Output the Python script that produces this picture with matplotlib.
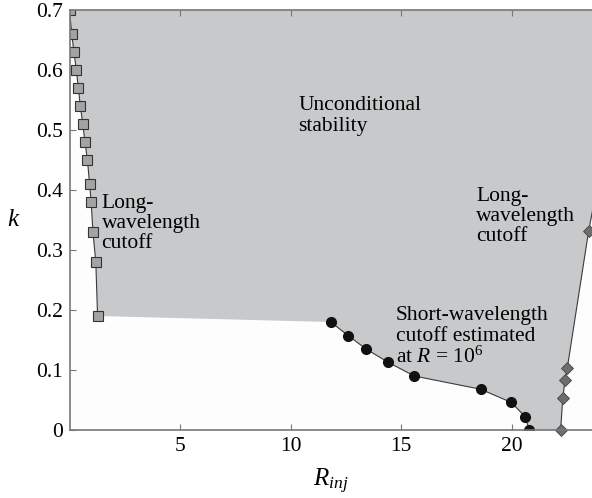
import numpy as np
import matplotlib.pyplot as plt

plt.rcParams['font.family'] = ['Liberation Serif', 'DejaVu Serif']
plt.rcParams['mathtext.fontset'] = 'custom'
plt.rcParams['mathtext.rm'] = 'Liberation Serif'
plt.rcParams['mathtext.it'] = 'Liberation Serif:italic'

# long-wavelength cutoff, small R_inj side (squares)
R_sq = [0.0, 0.10, 0.20, 0.31, 0.40, 0.49, 0.60, 0.70, 0.81, 0.91, 0.98, 1.06, 1.19, 1.27]
k_sq = [0.70, 0.66, 0.63, 0.60, 0.57, 0.54, 0.51, 0.48, 0.45, 0.41, 0.38, 0.33, 0.28, 0.19]

# short-wavelength cutoff (circles)
R_ci = [11.82, 12.62, 13.42, 14.41, 15.60, 18.60, 19.99, 20.62, 20.80]
k_ci = [0.18, 0.157, 0.135, 0.113, 0.09, 0.068, 0.046, 0.022, 0.0]

# long-wavelength cutoff, large R_inj side (diamonds)
R_di = [22.22, 22.32, 22.42, 22.52, 23.49]
k_di = [0.0, 0.054, 0.083, 0.103, 0.332]
# the curve carries on past the right edge
R_di_ext = [23.49, 25.4]
k_di_ext = [0.332, 0.70]

fig = plt.figure(figsize=(5.92, 4.98), dpi=100)
ax = fig.add_axes([0.1174, 0.1365, 0.8826, 0.8435])
ax.set_facecolor('#fdfdfd')
fig.patch.set_facecolor('white')

# stable region
poly_R = R_sq + R_ci + R_di + R_di_ext[1:]
poly_k = k_sq + k_ci + k_di + k_di_ext[1:]
ax.fill(poly_R, poly_k, color='#c8c9cb', lw=0, zorder=1)

lc = '#3a3a3a'
ax.plot(R_sq, k_sq, '-', color=lc, lw=0.8, marker='s', ms=6.5,
        mfc='#a3a3a3', mec='#333333', mew=0.8, zorder=3)
ax.plot(R_ci, k_ci, '-', color=lc, lw=0.8, marker='o', ms=7,
        mfc='#111111', mec='#111111', zorder=3)
ax.plot(R_di_ext, k_di_ext, '-', color=lc, lw=0.8, zorder=2)
ax.plot(R_di, k_di, '-', color=lc, lw=0.8, marker='D', ms=6,
        mfc='#6e6e6e', mec='#444444', mew=0.6, zorder=3, clip_on=False)

ax.set_xlim(0, 23.64)
ax.set_ylim(0, 0.7)
ax.set_xticks([5, 10, 15, 20])
ax.set_yticks([0, 0.1, 0.2, 0.3, 0.4, 0.5, 0.6, 0.7])
ax.set_yticklabels(['0', '0.1', '0.2', '0.3', '0.4', '0.5', '0.6', '0.7'])
ax.tick_params(direction='in', length=4, width=0.8, color='#777777',
               labelsize=15.5, top=True, pad=5)
for s in ['left', 'bottom', 'top']:
    ax.spines[s].set_color('#777777')
    ax.spines[s].set_linewidth(1.2)
    ax.spines[s].set_zorder(4)
ax.spines['right'].set_visible(False)

ax.set_xlabel('$R_{inj}$', fontsize=18, labelpad=8)
ax.set_ylabel('$k$', fontsize=18, rotation=0, labelpad=16, va='center')

fs = 15.5
ax.text(10.35, 0.557, 'Unconditional\nstability', fontsize=fs, va='top',
        linespacing=1.18)
ax.text(1.45, 0.394, 'Long-\nwavelength\ncutoff', fontsize=fs, va='top',
        linespacing=1.1)
ax.text(18.4, 0.405, 'Long-\nwavelength\ncutoff', fontsize=fs, va='top',
        linespacing=1.06)
ax.text(14.75, 0.206, 'Short-wavelength\ncutoff estimated\nat $R$ = 10$^6$',
        fontsize=fs, va='top', linespacing=1.08)

fig.savefig('out.png', dpi=100)
